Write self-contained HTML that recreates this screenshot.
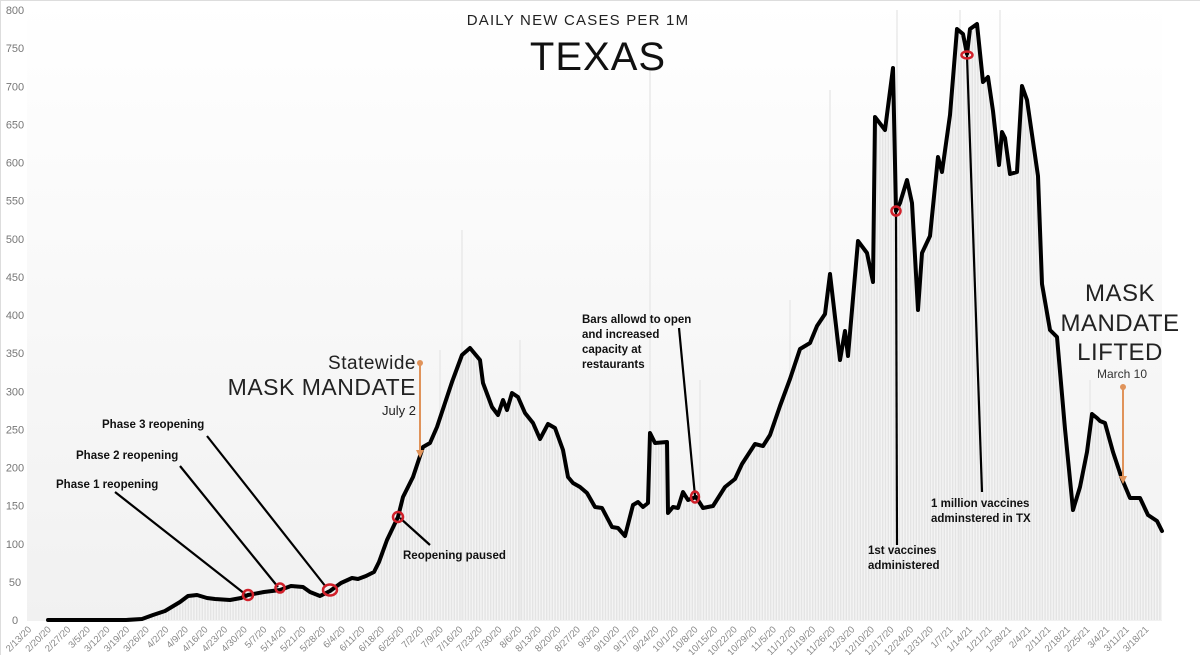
<!DOCTYPE html>
<html><head><meta charset="utf-8"><style>
html,body{margin:0;padding:0;background:#fff;}
svg{display:block;font-family:"Liberation Sans",sans-serif;}
</style></head><body>
<svg width="1200" height="655" viewBox="0 0 1200 655" xmlns="http://www.w3.org/2000/svg">
<defs>
<linearGradient id="bg" x1="0" y1="0" x2="0" y2="1">
<stop offset="0" stop-color="#ffffff"/><stop offset="1" stop-color="#f1f1f1"/>
</linearGradient>
<pattern id="bars" width="2.8" height="10" patternUnits="userSpaceOnUse">
<rect width="2.8" height="10" fill="#f4f4f4"/><rect width="1.4" height="10" fill="#e4e4e4"/>
</pattern>
</defs>
<rect x="0" y="0" width="1200" height="655" fill="#fff"/>
<rect x="27" y="0" width="1135" height="621" fill="url(#bg)"/>
<line x1="0" y1="0.5" x2="1200" y2="0.5" stroke="#ddd"/>
<line x1="0.5" y1="0" x2="0.5" y2="655" stroke="#ddd"/>
<g id="yl" font-size="11" fill="#777" text-anchor="middle"></g>
<g id="xl" font-size="9.5" fill="#888" text-anchor="end"></g>
<polygon id="area" fill="url(#bars)"/>
<g stroke="#e8e8e8" stroke-width="1.4" id="spikes"></g>
<polyline id="ln" fill="none" stroke="#000" stroke-width="4" stroke-linejoin="round" stroke-linecap="round"/>
<text x="578" y="25" font-size="15" text-anchor="middle" letter-spacing="1.2" fill="#222">DAILY NEW CASES PER 1M</text>
<text x="598" y="70" font-size="40" text-anchor="middle" letter-spacing="1" fill="#111">TEXAS</text>
<text x="416" y="369" font-size="19" text-anchor="end" fill="#222" letter-spacing="0.5">Statewide</text>
<text x="416" y="395" font-size="23" text-anchor="end" fill="#222" letter-spacing="0.5">MASK MANDATE</text>
<text x="416" y="415" font-size="13" text-anchor="end" fill="#222">July 2</text>
<line x1="420" y1="363" x2="420" y2="452" stroke="#e0935a" stroke-width="2"/>
<circle cx="420" cy="363" r="3" fill="#e0935a"/>
<polygon points="416,450 424,450 420,458" fill="#e0935a"/>
<g font-size="24" fill="#222" text-anchor="middle" letter-spacing="0.5">
<text x="1120" y="301">MASK</text><text x="1120" y="331">MANDATE</text><text x="1120" y="360">LIFTED</text>
</g>
<text x="1122" y="378" font-size="12" text-anchor="middle" fill="#333">March 10</text>
<line x1="1123" y1="387" x2="1123" y2="478" stroke="#e0935a" stroke-width="2"/>
<circle cx="1123" cy="387" r="3" fill="#e0935a"/>
<polygon points="1119,476 1127,476 1123,484" fill="#e0935a"/>
<g stroke="#000" stroke-width="2.2">
<line x1="115" y1="492" x2="245" y2="594"/>
<line x1="180" y1="466" x2="278" y2="587"/>
<line x1="207" y1="436" x2="326" y2="587"/>
<line x1="400" y1="518" x2="430" y2="545"/>
<line x1="679" y1="328" x2="695" y2="496"/>
<line x1="896" y1="212" x2="897" y2="545"/>
<line x1="967" y1="56" x2="982" y2="492"/>
</g>
<g fill="none" stroke="#d0202a" stroke-width="2.5">
<circle cx="248" cy="595" r="5"/><circle cx="280" cy="588" r="4.5"/>
<ellipse cx="330" cy="590" rx="7" ry="5.5"/><circle cx="398" cy="517" r="5"/>
<ellipse cx="695" cy="497" rx="4" ry="5.5"/><circle cx="896" cy="211" r="4.5"/>
<ellipse cx="967" cy="55" rx="5.5" ry="3.5"/>
</g>
<g font-size="11.5" font-weight="bold" fill="#111">
<text x="102" y="428">Phase 3 reopening</text>
<text x="76" y="459">Phase 2 reopening</text>
<text x="56" y="488">Phase 1 reopening</text>
<text x="403" y="559">Reopening paused</text>
<text x="582" y="323">Bars allowd to open</text>
<text x="582" y="338">and increased</text>
<text x="582" y="353">capacity at</text>
<text x="582" y="368">restaurants</text>
<text x="868" y="554">1st vaccines</text>
<text x="868" y="569">administered</text>
<text x="931" y="507">1 million vaccines</text>
<text x="931" y="522">adminstered in TX</text>
</g>
<script>
var pts=[[48,620],[126,620],[142,619],[153,615],[165,611],[180,602],[188,596],[197,595],[207,598],[215,599],[230,600],[241,598],[248,595],[264,592],[280,590],[291,586],[303,587],[310,592],[320,596],[330,591],[341,583],[352,578],[358,579],[366,576],[374,572],[379,562],[387,540],[398,517],[403,497],[413,477],[423,447],[430,443],[437,427],[452,382],[462,355],[470,348],[480,360],[483,383],[492,407],[498,415],[503,400],[507,410],[512,393],[518,397],[525,413],[533,423],[540,439],[548,424],[555,428],[563,450],[568,477],[573,483],[580,487],[587,493],[595,507],[602,508],[612,527],[618,528],[625,536],[633,505],[638,502],[643,507],[648,503],[650,433],[655,443],[667,442],[668,513],[673,507],[678,508],[683,492],[688,500],[696,497],[703,508],[713,506],[725,487],[735,479],[742,464],[755,444],[763,446],[770,435],[780,406],[790,379],[800,349],[810,343],[817,326],[825,314],[830,274],[840,360],[845,331],[848,356],[858,241],[867,253],[873,282],[875,117],[885,130],[893,68],[896,211],[900,203],[907,180],[912,203],[918,310],[922,253],[930,236],[938,157],[942,172],[950,115],[957,29],[963,34],[967,54],[970,29],[977,24],[983,82],[988,77],[993,111],[999,165],[1002,132],[1005,138],[1010,174],[1017,172],[1022,86],[1027,100],[1038,176],[1042,284],[1050,330],[1057,337],[1065,429],[1073,510],[1080,487],[1087,452],[1092,414],[1097,418],[1100,421],[1105,423],[1113,452],[1122,479],[1130,498],[1140,498],[1148,515],[1157,521],[1162,531]];
var s=pts.map(function(p){return p.join(',')}).join(' ');
document.getElementById('ln').setAttribute('points',s);
document.getElementById('area').setAttribute('points','48,620 '+s+' 1162,620');
var NS='http://www.w3.org/2000/svg';
var yl=document.getElementById('yl');
for(var v=0;v<=800;v+=50){var t=document.createElementNS(NS,'text');t.setAttribute('x',15);t.setAttribute('y',620-v*0.7625+4);t.textContent=v;yl.appendChild(t);}
var xl=document.getElementById('xl');var d=new Date(2020,1,13);
for(var i=0;i<58;i++){var dd=new Date(d.getTime()+i*7*864e5+36e5*12);var lab=(dd.getMonth()+1)+'/'+dd.getDate()+'/'+String(dd.getFullYear()).slice(2);
var x=32+i*19.6;var t=document.createElementNS(NS,'text');t.setAttribute('transform','translate('+x+',630) rotate(-45)');t.textContent=lab;xl.appendChild(t);}
var sp=[[462,230],[650,70],[897,10],[830,90],[790,300],[700,380],[960,10],[1000,10],[1040,230],[520,340],[440,350],[1090,380]];
var g=document.getElementById('spikes');
sp.forEach(function(p){var l=document.createElementNS(NS,'line');l.setAttribute('x1',p[0]);l.setAttribute('x2',p[0]);l.setAttribute('y1',p[1]);l.setAttribute('y2',620);g.appendChild(l);});
</script>
</svg>
</body></html>
